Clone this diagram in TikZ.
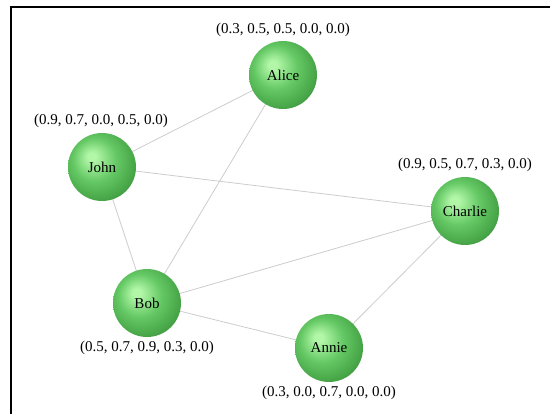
\documentclass[tikz,border=0pt]{standalone}
\usepackage{fontspec}
\setmainfont{Liberation Serif}
\definecolor{sphhl}{HTML}{B2F7A8}
\definecolor{sphmid}{HTML}{64C864}
\definecolor{sphlow}{HTML}{46A446}
\definecolor{sphdark}{HTML}{2C7E2C}
\definecolor{edgegray}{HTML}{CCCCCC}
\pgfdeclareradialshading{greensphere}{\pgfpoint{-8bp}{8bp}}{%
  color(0bp)=(sphhl); color(3bp)=(sphhl); color(16bp)=(sphmid); color(28bp)=(sphlow); color(35bp)=(sphdark); color(50bp)=(sphdark)}
\tikzset{
  person/.style={circle, minimum size=68pt, inner sep=0pt, shading=greensphere, font=\fontsize{15}{18}\selectfont},
  vec/.style={font=\fontsize{15}{18}\selectfont, inner sep=0pt},
  link/.style={draw=edgegray, line width=0.8pt}
}
\begin{document}
\begin{tikzpicture}[x=1pt,y=-1pt]
\useasboundingbox (0,0) rectangle (550,414);
\draw[line width=1.1pt] (11,420) -- (11,7) -- (556,7);
\coordinate (pA) at (283,75);
\coordinate (pJ) at (102,167);
\coordinate (pB) at (147,303);
\coordinate (pC) at (465,211);
\coordinate (pN) at (329,348);
\draw[link] (pJ) -- (pA);
\draw[link] (pA) -- (pB);
\draw[link] (pJ) -- (pC);
\draw[link] (pJ) -- (pB);
\draw[link] (pB) -- (pC);
\draw[link] (pB) -- (pN);
\draw[link] (pN) -- (pC);
\node[person] (alice) at (pA) {Alice};
\node[person] (john) at (pJ) {John};
\node[person] (bob) at (pB) {Bob};
\node[person] (charlie) at (pC) {Charlie};
\node[person] (annie) at (pN) {Annie};
\node[vec] (la) at (283,30) {(0.3, 0.5, 0.5, 0.0, 0.0)};
\node[vec] (lj) at (101,121) {(0.9, 0.7, 0.0, 0.5, 0.0)};
\node[vec] (lc) at (465,165) {(0.9, 0.5, 0.7, 0.3, 0.0)};
\node[vec] (lb) at (147,348) {(0.5, 0.7, 0.9, 0.3, 0.0)};
\node[vec] (ln) at (329,393) {(0.3, 0.0, 0.7, 0.0, 0.0)};
\end{tikzpicture}
\end{document}
